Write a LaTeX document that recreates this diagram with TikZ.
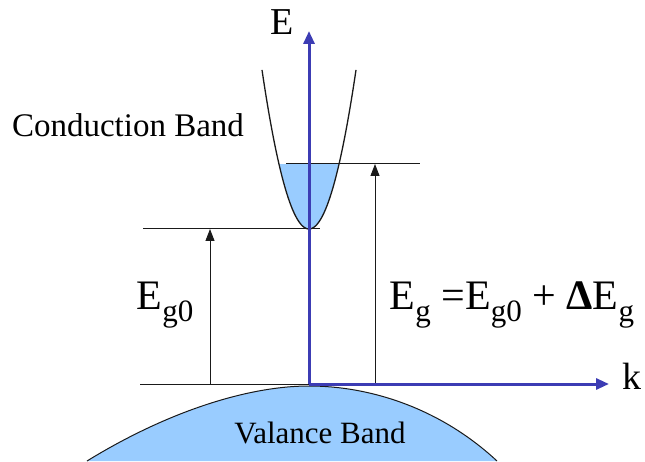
\documentclass[tikz,border=0pt]{standalone}
\usepackage{fontspec}
\usepackage{graphicx}
\setmainfont{Liberation Serif}
\usetikzlibrary{arrows.meta,calc}
\definecolor{ejeAzul}{HTML}{3C3CB4}
\definecolor{banda}{HTML}{99CCFF}
\definecolor{trazo}{HTML}{1A1A1A}
\newcommand{\lowidx}[1]{\raisebox{-0.3em}{\scalebox{0.74}{#1}}}

\begin{document}
\begin{tikzpicture}[x=1pt,y=-1pt,
    axisline/.style={draw=ejeAzul,line width=3pt,-{Triangle[length=13pt,width=11pt]}},
    levelline/.style={draw=trazo,line width=1pt},
    gaparrow/.style={draw=trazo,line width=1pt,-{Triangle[length=12pt,width=9pt]}},
    lbl/.style={inner sep=0pt,text=black}]
  \useasboundingbox (0,0) rectangle (645,462);
  % key points
  \coordinate (o) at (309,384);
  \coordinate (etip) at (309,31);
  \coordinate (ktip) at (609,384);
  \coordinate (cbmin) at (309,229);
  \coordinate (fermi) at (309,164);
  \coordinate (base) at (140,384);
  \coordinate (g0l) at (143,229);
  \coordinate (g0r) at (320,229);
  \coordinate (fl) at (286,164);
  \coordinate (fr) at (420,164);
  \coordinate (a0) at (210,384);
  \coordinate (a1) at (375,384);
  % valance band
  \fill[banda] (87,461) .. controls (170,410) and (250,386) .. (309,386)
    .. controls (370,386) and (440,408) .. (497,461) -- cycle;
  \draw[trazo,line width=1pt] (87,461) .. controls (170,410) and (250,386) .. (309,386)
    .. controls (370,386) and (440,408) .. (497,461);
  % conduction band
  \fill[banda] plot[domain=-30:30,samples=40] ({309+\x},{229-0.072*\x*\x}) -- cycle;
  \draw[trazo,line width=1.3pt] plot[domain=-47:47,samples=80] ({309+\x},{229-0.072*\x*\x});
  % levels and gaps
  \draw[levelline] (base) -- (o);
  \draw[levelline] (g0l) -- (g0r);
  \draw[levelline] (fl) -- (fr);
  \draw[gaparrow] (a0) -- (a0 |- cbmin);
  \draw[gaparrow] (a1) -- (a1 |- fermi);
  % axes
  \draw[axisline] (o) -- (etip);
  \draw[axisline] (o) -- (ktip);
  % labels
  \node[lbl,font=\fontsize{38}{40}\selectfont] (elab) at (282,22) {E};
  \node[lbl,font=\fontsize{38}{40}\selectfont] (klab) at (632,376) {k};
  \node[lbl,font=\fontsize{33}{36}\selectfont] (cb) at (128,125) {Conduction Band};
  \node[lbl,font=\fontsize{31}{34}\selectfont] (vb) at (320,433) {Valance Band};
  \node[lbl,font=\fontsize{42}{44}\selectfont] (eg0) at (165,305) {E\lowidx{g0}};
  \node[lbl,font=\fontsize{42}{44}\selectfont] (eg) at (512,305)
    {E\lowidx{g} =E\lowidx{g0} + \textbf{Δ}E\lowidx{g}};
\end{tikzpicture}
\end{document}
